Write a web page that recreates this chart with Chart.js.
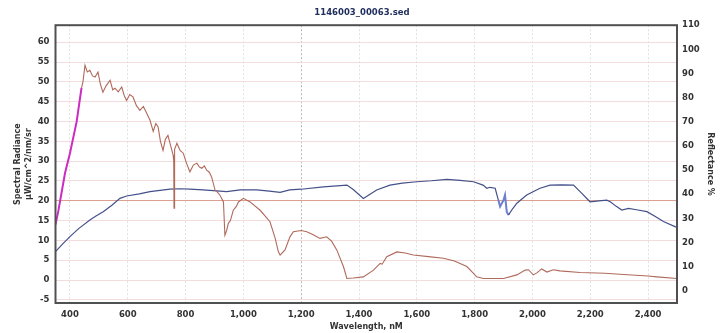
<!DOCTYPE html>
<html>
<head>
<meta charset="utf-8">
<script src="https://cdn.jsdelivr.net/npm/chart.js@4/dist/chart.umd.min.js"></script>
<style>
html,body{margin:0;padding:0;background:#fff;}
#wrap{width:724px;height:333px;position:relative;}
</style>
</head>
<body>
<div id="wrap"><canvas id="chartCanvas"></canvas></div>
<script>

const chartTitle = "1146003_00063.sed";

// radiance, left axis
const radWavelength = [350,360,383,400,423,440,445,452,460,469,478,487,497,505,514,525,539,548,556,567,579,588,596,607,618,630,642,654,666,677,688,697,705,713,722,730,739,748,757,759,760,762,770,781,792,803,815,827,839,848,856,865,873,882,890,902,910,919,931,936,942,948,955,965,975,983,1000,1023,1058,1092,1110,1121,1127,1144,1161,1173,1200,1219,1240,1265,1288,1305,1323,1346,1358,1380,1415,1450,1473,1480,1496,1531,1560,1588,1640,1692,1730,1773,1796,1807,1830,1900,1946,1975,1986,2003,2015,2032,2050,2072,2095,2165,2250,2315,2400,2430,2500];
const radiance = [14.0,17.5,27.0,32.0,39.9,48.5,50.0,54.2,52.5,52.9,51.5,51.2,52.5,49.5,47.4,49.0,50.4,48.0,48.4,47.5,48.7,46.5,45.3,46.8,46.2,44.0,42.8,43.8,42.0,40.3,37.5,39.5,38.6,35.0,32.7,35.5,36.5,34.0,31.5,30.0,18.1,33.0,34.5,32.7,32.0,29.5,27.3,29.0,29.5,28.5,28.2,28.8,27.7,27.2,26.0,22.7,22.2,21.4,19.7,11.3,12.5,14.3,15.0,17.6,18.5,19.7,20.6,19.7,17.6,14.7,10.5,7.1,6.3,7.6,10.9,12.2,12.5,12.2,11.5,10.5,10.9,9.8,7.6,3.4,0.4,0.5,0.8,2.5,4.2,4.0,5.9,7.1,6.8,6.3,5.9,5.5,4.8,3.4,1.7,0.8,0.4,0.4,1.3,2.5,2.6,1.3,1.8,2.8,2.0,2.6,2.3,1.9,1.7,1.4,1.0,0.8,0.4];

// reflectance %, right axis
const reflWavelength = [350,375,400,430,469,490,515,545,573,596,640,677,746,780,815,860,896,942,989,1046,1090,1127,1160,1200,1277,1358,1380,1415,1461,1507,1550,1600,1650,1704,1750,1796,1829,1842,1853,1871,1882,1888,1895,1900,1905,1911,1917,1930,1946,1980,2026,2061,2100,2142,2170,2199,2230,2257,2269,2290,2309,2332,2360,2396,2425,2453,2493,2500];
const reflectance = [16.3,19.5,22.5,25.8,29.4,31.0,32.8,35.5,38.3,39.3,40.2,41.1,42.1,42.3,42.1,41.8,41.5,41.1,41.8,41.8,41.3,40.8,41.8,42.1,43.1,43.8,42.0,38.3,41.8,43.8,44.6,45.2,45.6,46.2,45.8,45.2,43.8,42.5,42.9,42.5,37.6,34.9,36.5,37.6,39.7,32.8,31.4,33.8,36.3,39.7,42.5,43.8,43.9,43.8,40.5,36.9,37.3,37.6,36.9,35.0,33.5,34.2,33.6,32.8,30.8,28.7,26.6,26.3];

const xMin = 350, xMax = 2500, xStep = 200;
const leftMin = -5.8, leftMax = 64.3, leftStep = 5;
const rightMin = -5, rightMax = 110, rightStep = 10;

const radPoints = radWavelength.map((w,i)=>({x:w,y:radiance[i]}));
const reflPoints = reflWavelength.map((w,i)=>({x:w,y:reflectance[i]}));

const tickFont = {family:"DejaVu Sans", size:8.5, weight:"bold"};
const titleFont = {family:"DejaVu Sans", size:8, weight:"bold", lineHeight:1.3};

const plotBorder = {
id:"plotBorder",
afterDraw(chart){
const a = chart.chartArea;
const ctx = chart.ctx;
ctx.save();
ctx.strokeStyle = "#505050";
ctx.lineWidth = 2;
ctx.strokeRect(a.left, a.top, a.right-a.left, a.bottom-a.top);
ctx.restore();
}
};

new Chart(document.getElementById("chartCanvas"),{

type:"line",

data:{
datasets:[
{
label:"Radiance",
data:radPoints,
yAxisID:"y",
borderColor:"#b06a5c",
borderWidth:1.1,
pointRadius:0,
segment:{
borderColor: c => c.p1.parsed.x <= 440 ? "#cc2cc0" : "#b06a5c",
borderWidth: c => c.p1.parsed.x <= 440 ? 2 : 1.1
}
},
{
label:"Reflectance",
data:reflPoints,
yAxisID:"y2",
borderColor:"#44508a",
borderWidth:1.2,
pointRadius:0,
segment:{
borderColor: c => (c.p0.parsed.x >= 1882 && c.p1.parsed.x <= 1917) ? "#6f7fd0" : "#44508a",
borderWidth: c => (c.p0.parsed.x >= 1882 && c.p1.parsed.x <= 1917) ? 2 : 1.2
}
}
]
},

options:{
responsive:true,
maintainAspectRatio:false,
animation:false,
layout:{padding:0},
plugins:{
legend:{display:false},
tooltip:{enabled:false},
title:{
display:true,
text:chartTitle,
color:"#1f2d5c",
font:{family:"DejaVu Sans", size:8.5, weight:"bold"},
padding:{top:8, bottom:7}
}
},
scales:{
x:{
type:"linear",
min:xMin,
max:xMax,
afterFit(s){ s.height = 30; },
border:{display:false, dash:[2,2]},
grid:{
drawTicks:false,
color: c => c.tick && c.tick.value === 1200 ? "#b4b4b4" : "#e4e0e0"
},
ticks:{
stepSize:xStep,
includeBounds:false,
autoSkip:false,
maxRotation:0,
padding:7,
color:"#333",
font:tickFont,
callback: v => v.toLocaleString("en-US")
},
title:{
display:true,
text:"Wavelength, nM",
color:"#333",
font:titleFont,
padding:{top:0, bottom:1}
}
},
y:{
position:"left",
min:leftMin,
max:leftMax,
afterFit(s){ s.width = 55.5; },
border:{display:false},
grid:{
drawTicks:false,
color: c => c.tick && c.tick.value === 20 ? "#dca090" : "#f2dcdc"
},
ticks:{
stepSize:leftStep,
includeBounds:false,
padding:6,
color:"#333",
font:tickFont
},
title:{
display:true,
text:["Spectral Radiance","\u00b5W/cm^2/nm/sr"],
color:"#333",
font:titleFont,
padding:{top:13, bottom:0}
}
},
y2:{
position:"right",
min:rightMin,
max:rightMax,
afterFit(s){ s.width = 47; },
border:{display:false},
grid:{display:false, drawTicks:false},
ticks:{
stepSize:rightStep,
includeBounds:false,
padding:5,
color:"#333",
font:tickFont
},
title:{
display:true,
text:"Reflectance %",
color:"#333",
font:titleFont,
padding:{top:9, bottom:0}
}
}
}
},

plugins:[plotBorder]

});

</script>
</body>
</html>
